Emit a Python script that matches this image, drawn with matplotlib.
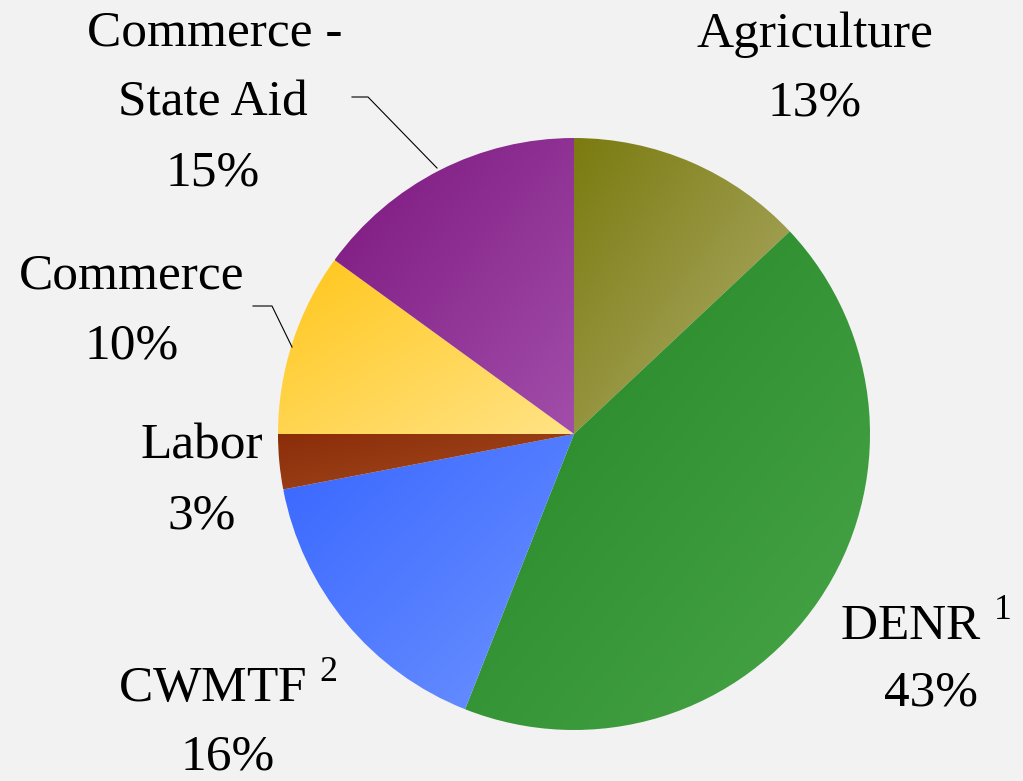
import numpy as np
import matplotlib
matplotlib.use("Agg")
import matplotlib.pyplot as plt
import matplotlib.colors as mcolors

plt.rcParams["mathtext.fontset"] = "custom"
plt.rcParams["mathtext.rm"] = "Liberation Serif"

# budget shares by agency, clockwise from the top
labels = ["Agriculture", "DENR", "CWMTF", "Labor", "Commerce", "Commerce - State Aid"]
shares = [13, 43, 16, 3, 10, 15]
notes = ["", "1", "2", "", "", ""]

# (dark corner, light corner) of each slice's diagonal gradient
dark_colors = ["#7b7b10", "#248424", "#3866ff", "#8a2c08", "#ffc61a", "#7c167f"]
light_colors = ["#b0ae6e", "#48a648", "#6c92ff", "#a44c22", "#ffe385", "#a24eaa"]

W, H = 1023, 781
CX, CY, R = 574, H - 434, 296
FONT = "Liberation Serif"
FS = 37


def gradient_fill(ax, wedge, c0, c1, n=128):
    """Fill a wedge with a top-left -> bottom-right gradient."""
    ext = wedge.get_path().get_extents()
    gx, gy = np.meshgrid(np.linspace(0, 1, n), np.linspace(0, 1, n))
    t = (gx + (1 - gy)) / 2
    a = np.array(mcolors.to_rgb(c0))
    b = np.array(mcolors.to_rgb(c1))
    img = a + (b - a) * t[..., None]
    im = ax.imshow(img, extent=(ext.x0, ext.x1, ext.y0, ext.y1), origin="lower",
                   interpolation="bilinear", zorder=2)
    im.set_clip_path(wedge)


fig = plt.figure(figsize=(W / 100, H / 100), dpi=100)
fig.patch.set_facecolor("#f2f2f2")
ax = fig.add_axes([0, 0, 1, 1])
ax.set_facecolor("#f2f2f2")

wedges, _ = ax.pie(shares, startangle=90, counterclock=False, center=(CX, CY),
                   radius=R, colors=dark_colors, wedgeprops=dict(linewidth=0))
for w, c0, c1 in zip(wedges, dark_colors, light_colors):
    w.set_alpha(0)
    gradient_fill(ax, w, c0, c1)


def line(s, x, y):
    ax.text(x, H - y, s, ha="center", va="center", fontsize=FS, family=FONT,
            color="black")


def with_note(name, note):
    return name + r" $^{\mathrm{" + note + "}}$" if note else name


line(labels[0], 815, 35)
line(f"{shares[0]}%", 815, 103)
line(with_note(labels[1], notes[1]), 925, 627)
line(f"{shares[1]}%", 931, 693)
line(with_note(labels[2], notes[2]), 228, 688)
line(f"{shares[2]}%", 228, 757)
line(labels[3], 202, 446)
line(f"{shares[3]}%", 202, 516)
line(labels[4], 132, 276)
line(f"{shares[4]}%", 132, 346)
line("Commerce -", 215, 33)
line("State Aid", 213, 103)
line(f"{shares[5]}%", 213, 173)

# leader lines for the two labels set away from their slices
ax.plot([352, 368, 437], [H - 97, H - 97, H - 168], color="black", lw=0.8)
ax.plot([253, 272, 292], [H - 306, H - 306, H - 347], color="black", lw=0.8)

ax.set_xlim(0, W)
ax.set_ylim(0, H)
ax.set_aspect("equal")
ax.axis("off")

fig.savefig("out.png", dpi=100, facecolor=fig.get_facecolor())
